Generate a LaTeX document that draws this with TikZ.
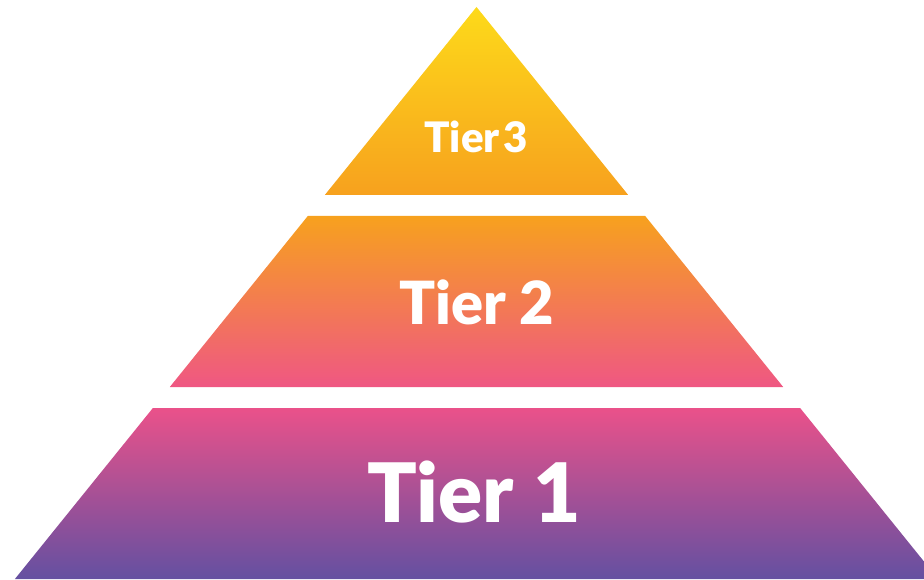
\documentclass[tikz,border=0pt]{standalone}
\usepackage{fontspec}
\setmainfont{Lato}[BoldFont={Lato Black}]
\definecolor{tieryellow}{HTML}{FDDA1A}
\definecolor{tierorange}{HTML}{F7A11E}
\definecolor{tierpink}{HTML}{EF5783}
\definecolor{tiermagenta}{HTML}{EA518A}
\definecolor{tierpurple}{HTML}{6450A1}
\tikzset{
  tiertext/.style={text=white,font=\bfseries,anchor=base,inner sep=0pt}
}
\begin{document}
\begin{tikzpicture}[x=1pt,y=-1pt]
        \useasboundingbox (0,0) rectangle (924,580);
        \clip (0,0) rectangle (924,580);

        % top
        \shade[top color=tieryellow,bottom color=tierorange]
            (476.5,7) -- (628.2,195) -- (324.8,195) -- cycle;
        % middle
        \shade[top color=tierorange,bottom color=tierpink]
            (307.8,216) -- (645.2,216) -- (783.2,387) -- (169.8,387) -- cycle;
        % bottom
        \shade[top color=tiermagenta,bottom color=tierpurple]
            (152.9,408) -- (800.1,408) -- (938.1,579) -- (14.9,579) -- cycle;

        \node[tiertext,font={\bfseries\fontsize{42}{42}\selectfont\spaceskip=0.08em\relax}] (tier3) at (476,153) {Tier 3};
        \node[tiertext,font=\bfseries\fontsize{59.5}{60}\selectfont] (tier2) at (477,324.3) {Tier 2};
        \node[tiertext,font=\bfseries\fontsize{82}{82}\selectfont] (tier1) at (474,522.7) {Tier 1};
\end{tikzpicture}
\end{document}
